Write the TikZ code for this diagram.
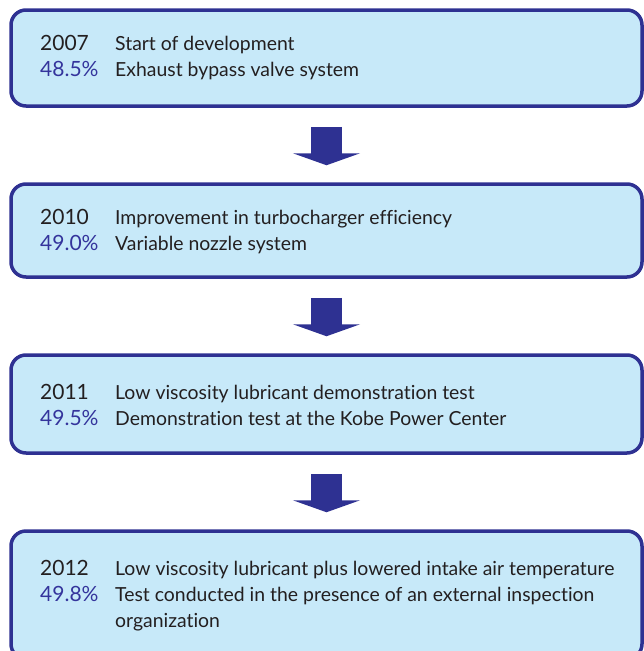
\documentclass[tikz,border=0pt]{standalone}
\usepackage{fontspec}
\setmainfont{Lato}[Ligatures=NoCommon]
\usetikzlibrary{arrows.meta}
\definecolor{frame}{RGB}{46,49,146}
\definecolor{boxfill}{RGB}{199,233,249}
\definecolor{pct}{RGB}{52,52,156}
\definecolor{ink}{RGB}{35,31,32}
\begin{document}
\begin{tikzpicture}[x=1pt, y=-1pt,
  box/.style={draw=frame, fill=boxfill, line width=3.5pt, rounded corners=15pt, minimum width=631pt, inner sep=0pt},
  txt/.style={anchor=base west, inner sep=0pt, text=ink},
  num/.style={txt, font=\fontsize{21}{26}\selectfont},
  down/.style={draw=frame, line width=31pt, -{Triangle[width=67pt, length=12pt]}}]
  \tikzstyle{every node}=[font=\fontsize{19.4}{26}\selectfont]
  \useasboundingbox (0,0) rectangle (643,651);

  % boxes
  \node[box, minimum height=96pt] (b1) at (326.5,58) {};
  \node[box, minimum height=93pt] (b2) at (326.5,230.5) {};
  \node[box, minimum height=98pt] (b3) at (326.5,404) {};
  \node[box, minimum height=128pt] (b4) at (326.5,595) {};

  % arrows
  \draw[down] ([yshift=-19pt]b1.south) -- ([yshift=17pt]b2.north);
  \draw[down] ([yshift=-19pt]b2.south) -- ([yshift=17pt]b3.north);
  \draw[down] ([yshift=-19pt]b3.south) -- ([yshift=17pt]b4.north);

  % 2007
  \node[num] (y1) at (40,50) {2007};
  \node[num, text=pct] (p1) at (40,76) {48.5\%};
  \node[txt] (d1) at (115,50) {Start of development};
  \node[txt] (e1) at (115,76) {Exhaust bypass valve system};
  % 2010
  \node[num] (y2) at (40,224) {2010};
  \node[num, text=pct] (p2) at (40,250) {49.0\%};
  \node[txt] (d2) at (115,224) {Improvement in turbocharger efficiency};
  \node[txt] (e2) at (115,250) {Variable nozzle system};
  % 2011
  \node[num] (y3) at (40,399) {2011};
  \node[num, text=pct] (p3) at (40,425) {49.5\%};
  \node[txt] (d3) at (115,399) {Low viscosity lubricant demonstration test};
  \node[txt] (e3) at (115,425) {Demonstration test at the Kobe Power Center};
  % 2012
  \node[num] (y4) at (40,575) {2012};
  \node[num, text=pct] (p4) at (40,601) {49.8\%};
  \node[txt] (d4) at (115,575) {Low viscosity lubricant plus lowered intake air temperature};
  \node[txt] (e4) at (115,601) {Test conducted in the presence of an external inspection};
  \node[txt] (f4) at (115,627) {organization};
\end{tikzpicture}
\end{document}
